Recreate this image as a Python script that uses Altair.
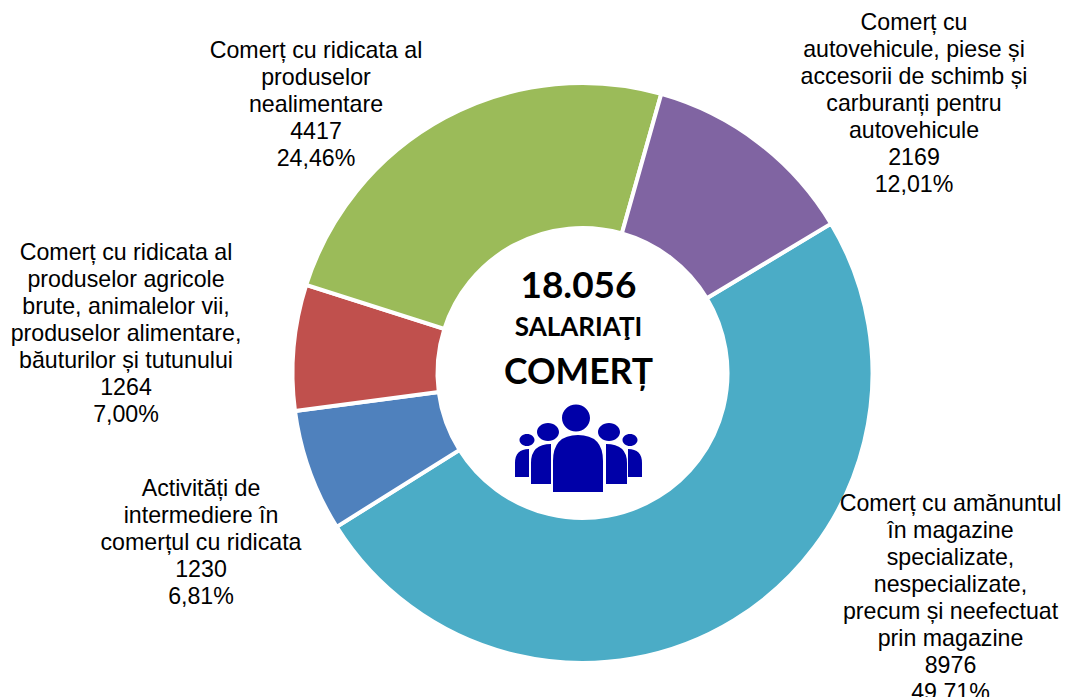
import math
import altair as alt
import pandas as pd

categories = [
    "Comerț cu amănuntul\nîn magazine\nspecializate,\nnespecializate,\nprecum și neefectuat\nprin magazine",
    "Activități de\nintermediere în\ncomerțul cu ridicata",
    "Comerț cu ridicata al\nproduselor agricole\nbrute, animalelor vii,\nproduselor alimentare,\nbăuturilor și tutunului",
    "Comerț cu ridicata al\nproduselor\nnealimentare",
    "Comerț cu\nautovehicule, piese și\naccesorii de schimb și\ncarburanți pentru\nautovehicule",
]
values = [8976, 1230, 1264, 4417, 2169]
percents = ["49,71%", "6,81%", "7,00%", "24,46%", "12,01%"]
colors = ["#4BACC6", "#4F81BD", "#C0504D", "#9BBB59", "#8064A2"]

center_texts = ["18.056", "SALARIAŢI", "COMERȚ"]

# layout (page px minus the 8px margin)
CX, CY = 574.5, 365
START = math.radians(59.0)
label_x = [942.5, 193, 118, 308, 906]
label_y = [496, 481, 245, 43, 15]
center_y = [279, 320, 365]
center_size = [37, 26, 35.5]
ICON_CX, ICON_CY, ICON_HALF = 578.5, 448.5, 65


def pt(x, y):
    return f"{(x - ICON_CX) / ICON_HALF:.4f},{(y - ICON_CY) / ICON_HALF:.4f}"


def ell(cx, cy, rx, ry):
    k = 0.5523
    return (
        f"M{pt(cx - rx, cy)}"
        f"C{pt(cx - rx, cy - k * ry)} {pt(cx - k * rx, cy - ry)} {pt(cx, cy - ry)}"
        f"C{pt(cx + k * rx, cy - ry)} {pt(cx + rx, cy - k * ry)} {pt(cx + rx, cy)}"
        f"C{pt(cx + rx, cy + k * ry)} {pt(cx + k * rx, cy + ry)} {pt(cx, cy + ry)}"
        f"C{pt(cx - k * rx, cy + ry)} {pt(cx - rx, cy + k * ry)} {pt(cx - rx, cy)}Z"
    )


icon_path = "".join([
    ell(576, 418, 14, 13.5),
    ell(548, 432, 11, 9), ell(609, 432, 11, 9),
    ell(527, 440, 7.5, 6), ell(630, 440, 7.5, 6),
    f"M{pt(553, 492)}L{pt(553, 461)}Q{pt(553, 435)} {pt(578, 435)}Q{pt(603, 435)} {pt(603, 461)}L{pt(603, 492)}Z",
    f"M{pt(531, 484)}L{pt(531, 463)}Q{pt(531, 444)} {pt(551, 444)}L{pt(551, 484)}Z",
    f"M{pt(606, 484)}L{pt(606, 444)}Q{pt(627, 444)} {pt(627, 463)}L{pt(627, 484)}Z",
    f"M{pt(515, 477)}L{pt(515, 463)}Q{pt(515, 449)} {pt(529, 449)}L{pt(529, 477)}Z",
    f"M{pt(628, 477)}L{pt(628, 449)}Q{pt(642, 449)} {pt(642, 463)}L{pt(642, 477)}Z",
])

df = pd.DataFrame({
    "idx": range(len(values)),
    "cat": categories,
    "value": values,
    "pct": percents,
    "label": [f"{c}\n{v}\n{p}" for c, v, p in zip(categories, values, percents)],
    "lx": label_x,
    "ly": label_y,
})

arcs = (
    alt.Chart(df)
    .mark_arc(radius=290, radius2=145, stroke="white", strokeWidth=4)
    .encode(
        theta=alt.Theta("value:Q", stack=True,
                        scale=alt.Scale(range=[START, START + 2 * math.pi])),
        order=alt.Order("idx:Q"),
        color=alt.Color("cat:N", legend=None,
                        scale=alt.Scale(domain=categories, range=colors)),
        x=alt.value(CX),
        y=alt.value(CY),
    )
)

labels = (
    alt.Chart(df)
    .mark_text(font="Liberation Sans", fontSize=23.2, lineBreak="\n", lineHeight=27,
               align="center", baseline="middle", color="#000000")
    .encode(
        x=alt.X("lx:Q", scale=None, axis=None),
        y=alt.Y("ly:Q", scale=None, axis=None),
        text="label:N",
    )
)

center_df = pd.DataFrame({"t": center_texts, "cy": center_y, "s": center_size})
center = (
    alt.Chart(center_df)
    .mark_text(font="Lato", fontWeight="bold", align="center", baseline="middle", color="#000000")
    .encode(
        x=alt.value(CX - 4),
        y=alt.Y("cy:Q", scale=None, axis=None),
        size=alt.Size("s:Q", scale=None, legend=None),
        text="t:N",
    )
)

icon = (
    alt.Chart(pd.DataFrame({"name": ["salariati"]}))
    .mark_point(shape=icon_path, filled=True, fill="#0000A8", opacity=1,
                size=(2 * ICON_HALF) ** 2, strokeWidth=0)
    .encode(x=alt.value(ICON_CX - 8), y=alt.value(ICON_CY - 8))
)

chart = (
    alt.layer(arcs, labels, center, icon)
    .properties(width=1054, height=700, padding=0, background="white")
    .configure_view(stroke="transparent", strokeWidth=0)
)
chart.save("out.html", embed_options={"renderer": "svg", "actions": False})
